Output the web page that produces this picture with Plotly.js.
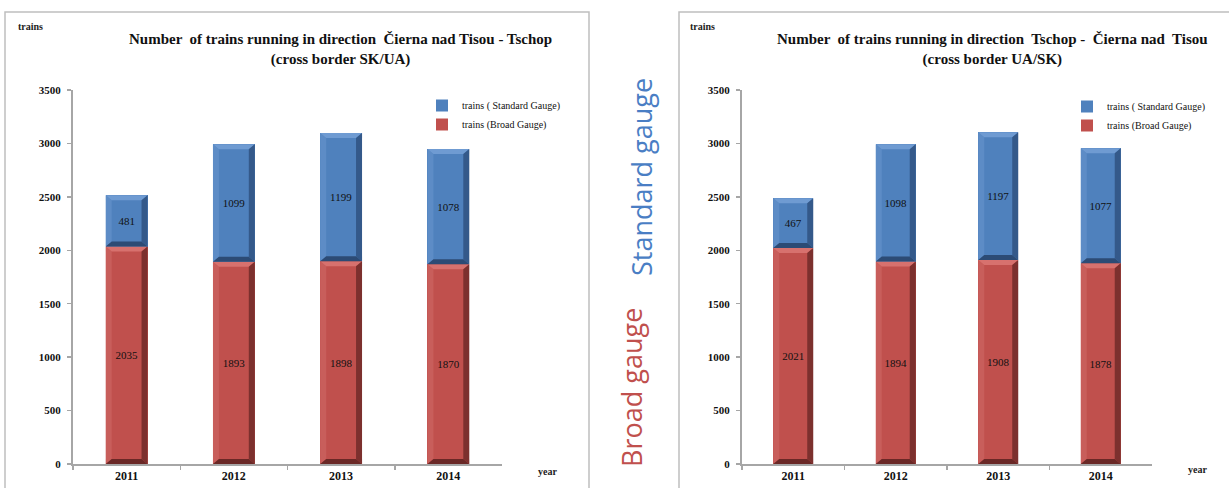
<!DOCTYPE html>
<html>
<head>
<meta charset="utf-8">
<script src="https://cdn.plot.ly/plotly-3.0.1.min.js"></script>
<style>
  html, body { margin: 0; padding: 0; background: #ffffff; }
  #chart { width: 1229px; height: 488px; }
</style>
</head>
<body>
<div id="chart"></div>
<script>
// Train counts per year at the Čierna nad Tisou / Tschop border crossing
const years = ['2011', '2012', '2013', '2014'];

// direction Čierna nad Tisou -> Tschop (SK/UA)
const skuaBroad    = [2035, 1893, 1898, 1870];
const skuaStandard = [481, 1099, 1199, 1078];

// direction Tschop -> Čierna nad Tisou (UA/SK)
const uaskBroad    = [2021, 1894, 1908, 1878];
const uaskStandard = [467, 1098, 1197, 1077];

const yTickVals = [0, 500, 1000, 1500, 2000, 2500, 3000, 3500];
const seriesNames = ['trains (Broad Gauge)', 'trains ( Standard Gauge)'];

const W = 1229, H = 488;
const px = v => v / W;
const py = v => (H - v) / H;

const SERIF = 'Liberation Serif, Times New Roman, serif';
const BLUE = '#4f81bd', RED = '#c0504d';
const BAR_W = 0.39;

const plotY = [py(464), py(90)];
const leftX = [px(73), px(502)];
const rightX = [px(742), px(1152)];

function barTrace(vals, name, color, xa, ya, legend) {
  return {
    type: 'bar', x: years, y: vals, name: name,
    xaxis: xa, yaxis: ya, legend: legend,
    width: BAR_W,
    marker: { color: color, line: { width: 0 } },
    text: vals.map(String), textposition: 'inside', insidetextanchor: 'middle',
    textangle: 0, constraintext: 'none',
    textfont: { family: SERIF, size: 11, color: '#111111' },
    hoverinfo: 'x+y+name'
  };
}

const traces = [
  barTrace(skuaBroad, seriesNames[0], RED, 'x', 'y', 'legend'),
  barTrace(skuaStandard, seriesNames[1], BLUE, 'x', 'y', 'legend'),
  barTrace(uaskBroad, seriesNames[0], RED, 'x2', 'y2', 'legend2'),
  barTrace(uaskStandard, seriesNames[1], BLUE, 'x2', 'y2', 'legend2')
];

// bevelled edges of each stacked segment, placed in data units of its subplot
function bevelShapes(xref, yref, broad, standard, domainPx) {
  const out = [];
  const catPx = domainPx / years.length;
  const bx = 6 / catPx;          // ~6px horizontal edge
  const by = 5 * 3500 / 374;     // ~5px vertical edge
  const hw = BAR_W / 2;
  const palettes = [
    { top: '#d7716e', left: '#c85e5b', right: '#7c302e', bottom: '#6a2826' },
    { top: '#6f9bd2', left: '#5d8cc6', right: '#34598a', bottom: '#2c4b75' }
  ];
  years.forEach((yr, i) => {
    const segs = [[0, broad[i]], [broad[i], broad[i] + standard[i]]];
    segs.forEach((s, k) => {
      const [b, t] = s, c = palettes[k];
      const L = i - hw, R = i + hw;
      const polys = [
        [c.left,   [[L, b], [L + bx, b + by], [L + bx, t - by], [L, t]]],
        [c.top,    [[L, t], [R, t], [R - bx, t - by], [L + bx, t - by]]],
        [c.right,  [[R - bx, b + by], [R, b], [R, t], [R - bx, t - by]]],
        [c.bottom, [[L, b], [R, b], [R - bx, b + by], [L + bx, b + by]]]
      ];
      polys.forEach(([col, pts]) => {
        out.push({
          type: 'path', xref: xref, yref: yref, layer: 'above',
          path: 'M' + pts.map(p => p[0] + ',' + p[1]).join('L') + 'Z',
          fillcolor: col, line: { width: 0 }
        });
      });
    });
  });
  return out;
}

function xAxis(domain, anchor) {
  return {
    domain: domain, anchor: anchor, type: 'category',
    showgrid: false, zeroline: false,
    showline: true, linecolor: '#a6a6a6', linewidth: 2,
    ticks: 'outside', tickson: 'boundaries', ticklen: 4, tickcolor: '#a6a6a6', tickwidth: 1.5,
    tickfont: { family: SERIF, size: 12, color: '#111111', weight: 'bold' },
    fixedrange: true
  };
}
function yAxis(anchor) {
  return {
    domain: plotY, anchor: anchor, range: [0, 3500],
    tickvals: yTickVals, showgrid: false, zeroline: false,
    showline: true, linecolor: '#a6a6a6', linewidth: 2,
    ticks: 'outside', ticklen: 4, tickcolor: '#a6a6a6', tickwidth: 1.5,
    tickfont: { family: SERIF, size: 11, color: '#111111', weight: 'bold' },
    ticklabelstandoff: 4, fixedrange: true
  };
}

function legendBox(x, y) {
  return {
    x: px(x), y: py(y), xanchor: 'left', yanchor: 'top',
    traceorder: 'reversed', bgcolor: 'rgba(0,0,0,0)',
    font: { family: SERIF, size: 10, color: '#111111' },
    itemwidth: 30, tracegroupgap: 0
  };
}

const titleFont = { family: SERIF, size: 15, color: '#111111', weight: 'bold' };
const smallFont = { family: SERIF, size: 10, color: '#222222', weight: 'bold' };

const annotations = [
  { text: 'Number  of trains running in direction  Čierna nad Tisou - Tschop<br>(cross border SK/UA)',
    x: px(340), y: py(29), xanchor: 'center', yanchor: 'top', font: titleFont },
  { text: 'Number  of trains running in direction  Tschop -  Čierna nad  Tisou<br>(cross border UA/SK)',
    x: px(992), y: py(29), xanchor: 'center', yanchor: 'top', font: titleFont },
  { text: 'trains', x: px(16), y: py(27), xanchor: 'left', yanchor: 'middle', font: smallFont },
  { text: 'trains', x: px(688), y: py(27), xanchor: 'left', yanchor: 'middle', font: smallFont },
  { text: 'year', x: px(547), y: py(471), xanchor: 'center', yanchor: 'middle', font: smallFont },
  { text: 'year', x: px(1197), y: py(469), xanchor: 'center', yanchor: 'middle', font: smallFont },
  { text: 'Standard gauge', x: px(641), y: py(177), xanchor: 'center', yanchor: 'middle', textangle: -90,
    font: { family: 'Open Sans, Noto Sans, sans-serif', size: 27, color: '#4a7ec4' } },
  { text: 'Broad gauge', x: px(631), y: py(387), xanchor: 'center', yanchor: 'middle', textangle: -90,
    font: { family: 'Open Sans, Noto Sans, sans-serif', size: 27, color: '#c0504d' } }
].map(a => Object.assign({ xref: 'paper', yref: 'paper', showarrow: false, align: 'center' }, a));

const panelShapes = [
  { type: 'rect', xref: 'paper', yref: 'paper', x0: px(5), x1: px(589), y0: -0.1, y1: py(12),
    line: { color: '#bfbfbf', width: 1.5 }, fillcolor: 'rgba(0,0,0,0)', layer: 'below' },
  { type: 'rect', xref: 'paper', yref: 'paper', x0: px(679), x1: 1.1, y0: -0.1, y1: py(12),
    line: { color: '#bfbfbf', width: 1.5 }, fillcolor: 'rgba(0,0,0,0)', layer: 'below' }
];

const layout = {
  width: W, height: H,
  margin: { l: 0, r: 0, t: 0, b: 0 },
  paper_bgcolor: '#ffffff', plot_bgcolor: 'rgba(0,0,0,0)',
  barmode: 'stack', showlegend: true,
  xaxis: xAxis(leftX, 'y'), yaxis: yAxis('x'),
  xaxis2: xAxis(rightX, 'y2'), yaxis2: yAxis('x2'),
  legend: legendBox(422, 91), legend2: legendBox(1067, 92),
  annotations: annotations,
  shapes: panelShapes
    .concat(bevelShapes('x', 'y', skuaBroad, skuaStandard, 502 - 73))
    .concat(bevelShapes('x2', 'y2', uaskBroad, uaskStandard, 1152 - 742))
};

Plotly.newPlot('chart', traces, layout, { displayModeBar: false, staticPlot: true });
</script>
</body>
</html>
